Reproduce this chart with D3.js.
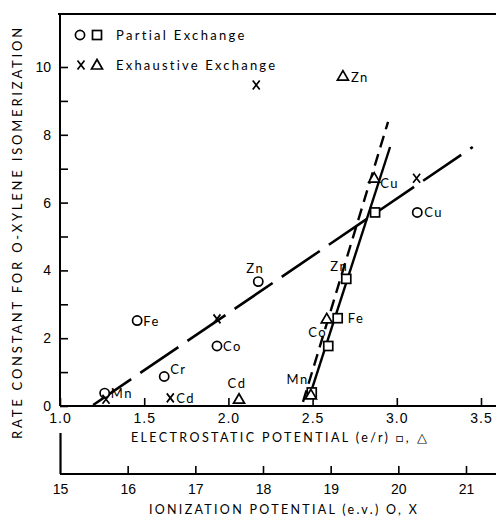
<!DOCTYPE html>
<html>
<head>
<meta charset="utf-8">
<script src="https://cdn.jsdelivr.net/npm/d3@7"></script>
<style>
  body { margin: 0; background: #fff; }
  svg { display: block; font-family: Lato, "Noto Sans", sans-serif; }
</style>
</head>
<body>
<div id="chart"></div>
<script>
// rate constants
// ionization potential series (circles = partial, x = exhaustive)
const circleNames = ["Mn", "Fe", "Cr", "Co", "Zn", "Cu"];
const circleEv = [15.66, 16.14, 16.54, 17.32, 17.93, 20.28];
const circleK = [0.38, 2.52, 0.87, 1.77, 3.67, 5.71];

const crossNames = ["Mn", "Cd", "Co", "Zn", "Cu"];
const crossEv = [15.68, 16.63, 17.32, 17.9, 20.27];
const crossK = [0.2, 0.24, 2.57, 9.47, 6.72];

// electrostatic potential series (squares = partial, triangles = exhaustive)
const squareNames = ["Mn", "Co", "Fe", "Zn", "Cu"];
const squareEr = [2.495, 2.593, 2.649, 2.7, 2.871];
const squareK = [0.4, 1.77, 2.59, 3.75, 5.71];

const triangleNames = ["Cd", "Mn", "Fe", "Cu", "Zn"];
const triangleEr = [2.063, 2.49, 2.584, 2.866, 2.68];
const triangleK = [0.2, 0.33, 2.57, 6.72, 9.73];

// which points carry a metal label in the figure
const circleLabels = ["Mn", "Fe", "Cr", "Co", "Zn", "Cu"];
const crossLabels = ["Cd"];
const squareLabels = ["Mn", "Co", "Fe", "Zn"];
const triangleLabels = ["Cd", "Cu", "Zn"];

// fitted lines (end points)
const ionFitEv = [15.49, 21.1];
const ionFitK = [0.03, 7.64];
const squareFitEr = [2.49, 2.96];
const squareFitK = [0.41, 7.64];
const triFitEr = [2.443, 2.948];
const triFitK = [0.12, 8.38];

// axis ticks
const erTicks = [1.0, 1.5, 2.0, 2.5, 3.0, 3.5];
const evTicks = [15, 16, 17, 18, 19, 20, 21];
const kTicks = [0, 1, 2, 3, 4, 5, 6, 7, 8, 9, 10];

const W = 496, H = 516;
const mLeft = 60, mRight = 496, mTop = 14, mBottom = 406, evAxisY = 474;

const xEr = d3.scaleLinear().domain([1.0, 3.5]).range([mLeft, 481]);
const xEv = d3.scaleLinear().domain([15, 21]).range([mLeft, 466]);
const y = d3.scaleLinear().domain([0, 10]).range([mBottom, 67]);

const svg = d3.select("#chart").append("svg").attr("width", W).attr("height", H);

// frame
svg.append("line").attr("x1", mLeft - 2).attr("x2", mRight).attr("y1", mTop).attr("y2", mTop)
  .attr("stroke", "#000").attr("stroke-width", 2.2);
svg.append("line").attr("x1", mLeft).attr("x2", mLeft).attr("y1", mTop).attr("y2", mBottom)
  .attr("stroke", "#000").attr("stroke-width", 2);
svg.append("line").attr("x1", mLeft).attr("x2", mRight).attr("y1", mBottom).attr("y2", mBottom)
  .attr("stroke", "#000").attr("stroke-width", 2.2);

// y axis
const yAxis = svg.append("g").attr("transform", `translate(${mLeft},0)`)
  .call(d3.axisLeft(y).tickValues(kTicks).tickSizeInner(-8).tickSizeOuter(0).tickPadding(9)
    .tickFormat((d) => (d % 2 === 0 ? d : "")));
yAxis.select(".domain").remove();
yAxis.selectAll("line").attr("stroke-width", 1.6);
yAxis.selectAll("text").attr("font-size", 14).attr("fill", "#000");

// electrostatic axis
const erAxis = svg.append("g").attr("transform", `translate(0,${mBottom})`)
  .call(d3.axisBottom(xEr).tickValues(erTicks).tickSizeInner(-8).tickSizeOuter(0).tickPadding(7)
    .tickFormat(d3.format(".1f")));
erAxis.select(".domain").remove();
erAxis.selectAll("line").attr("stroke-width", 1.6);
erAxis.selectAll("text").attr("font-size", 14).attr("fill", "#000").attr("letter-spacing", 1);

svg.append("text").attr("x", 280).attr("y", 442).attr("text-anchor", "middle")
  .attr("font-size", 12.5).attr("letter-spacing", 2.4)
  .text("ELECTROSTATIC POTENTIAL (e/r) \u25A1, \u25B3");

// ionization axis
svg.append("line").attr("x1", mLeft).attr("x2", mRight).attr("y1", evAxisY).attr("y2", evAxisY)
  .attr("stroke", "#000").attr("stroke-width", 2.2);
const evAxis = svg.append("g").attr("transform", `translate(0,${evAxisY})`)
  .call(d3.axisBottom(xEv).tickValues(evTicks).tickSizeInner(-8).tickSizeOuter(0).tickPadding(10)
    .tickFormat(d3.format("d")));
evAxis.select(".domain").remove();
evAxis.selectAll("line").attr("stroke-width", 1.6)
  .filter((d) => d === 15).attr("y2", -(evAxisY - 433)).attr("stroke-width", 2.2);
evAxis.selectAll("text").attr("font-size", 14).attr("fill", "#000");

svg.append("text").attr("x", 284).attr("y", 514).attr("text-anchor", "middle")
  .attr("font-size", 12.5).attr("letter-spacing", 2.3)
  .text("IONIZATION POTENTIAL (e.v.) O, X");

// y title
svg.append("text").attr("transform", "translate(22,232) rotate(-90)").attr("text-anchor", "middle")
  .attr("font-size", 13).attr("letter-spacing", 2.8)
  .text("RATE CONSTANT FOR O-XYLENE ISOMERIZATION");

// fitted lines
const line = d3.line();
svg.append("path")
  .attr("d", line(ionFitEv.map((v, i) => [xEv(v), y(ionFitK[i])])))
  .attr("fill", "none").attr("stroke", "#000").attr("stroke-width", 2.6)
  .attr("stroke-dasharray", "46,11");
svg.append("path")
  .attr("d", line(squareFitEr.map((v, i) => [xEr(v), y(squareFitK[i])])))
  .attr("fill", "none").attr("stroke", "#000").attr("stroke-width", 2.4);
svg.append("path")
  .attr("d", line(triFitEr.map((v, i) => [xEr(v), y(triFitK[i])])))
  .attr("fill", "none").attr("stroke", "#000").attr("stroke-width", 2.4)
  .attr("stroke-dasharray", "12,7");

// markers
const pts = (names, xs, ks, sx) => names.map((n, i) => ({ name: n, x: sx(xs[i]), y: y(ks[i]) }));
const circles = pts(circleNames, circleEv, circleK, xEv);
const crosses = pts(crossNames, crossEv, crossK, xEv);
const squares = pts(squareNames, squareEr, squareK, xEr);
const triangles = pts(triangleNames, triangleEr, triangleK, xEr);

function drawCircle(g, x, yy) {
  g.append("circle").attr("cx", x).attr("cy", yy).attr("r", 4.6)
    .attr("fill", "#fff").attr("stroke", "#000").attr("stroke-width", 1.7);
}
function drawSquare(g, x, yy) {
  g.append("rect").attr("x", x - 4.5).attr("y", yy - 4.5).attr("width", 9).attr("height", 9)
    .attr("fill", "#fff").attr("stroke", "#000").attr("stroke-width", 1.7);
}
function drawTriangle(g, x, yy) {
  g.append("path").attr("d", `M${x},${yy - 5.5}L${x + 5.5},${yy + 4}L${x - 5.5},${yy + 4}Z`)
    .attr("fill", "#fff").attr("stroke", "#000").attr("stroke-width", 1.7);
}
function drawCross(g, x, yy) {
  g.append("path").attr("d", `M${x - 3.5},${yy - 4.5}L${x + 3.5},${yy + 4.5}M${x + 3.5},${yy - 4.5}L${x - 3.5},${yy + 4.5}`)
    .attr("fill", "none").attr("stroke", "#000").attr("stroke-width", 1.7);
}

const marks = svg.append("g");
circles.forEach((d) => drawCircle(marks, d.x, d.y));
squares.forEach((d) => drawSquare(marks, d.x, d.y));
triangles.forEach((d) => drawTriangle(marks, d.x, d.y));
crosses.forEach((d) => drawCross(marks, d.x, d.y));

// label placement (offset from marker, anchor)
const place = {
  circle: { Mn: [6, 5, "start"], Fe: [6, 5, "start"], Cr: [6, -3, "start"], Co: [6, 5, "start"], Zn: [-3, -9, "middle"], Cu: [7, 5, "start"] },
  cross: { Cd: [6, 5, "start"] },
  square: { Mn: [-3, -8, "end"], Co: [-1, -9, "end"], Fe: [10, 5, "start"], Zn: [-7, -8, "middle"] },
  triangle: { Cd: [-2, -11, "middle"], Cu: [6, 10, "start"], Zn: [8, 6, "start"] },
};
const labels = svg.append("g").attr("font-size", 13).attr("letter-spacing", 1.5);
function addLabels(list, names, key) {
  list.filter((d) => names.includes(d.name)).forEach((d) => {
    const p = place[key][d.name];
    labels.append("text").attr("x", d.x + p[0]).attr("y", d.y + p[1])
      .attr("text-anchor", p[2]).text(d.name);
  });
}
addLabels(circles, circleLabels, "circle");
addLabels(crosses, crossLabels, "cross");
addLabels(squares, squareLabels, "square");
addLabels(triangles, triangleLabels, "triangle");

// legend
const lg = svg.append("g");
drawCircle(lg, 80, 35);
drawSquare(lg, 97, 35);
drawCross(lg, 81, 65);
drawTriangle(lg, 97, 65);
lg.append("text").attr("x", 116).attr("y", 40).attr("font-size", 13).attr("letter-spacing", 2.3)
  .text("Partial Exchange");
lg.append("text").attr("x", 116).attr("y", 70).attr("font-size", 13).attr("letter-spacing", 2.2)
  .text("Exhaustive Exchange");
</script>
</body>
</html>
